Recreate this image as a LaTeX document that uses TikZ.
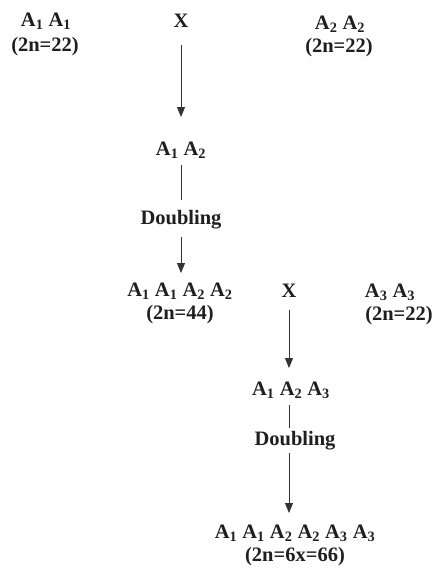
\documentclass[tikz,border=0pt]{standalone}
\usepackage{fontspec}
\setmainfont{Liberation Serif}
\usetikzlibrary{arrows.meta}
\newcommand\Asub[1]{A\textsubscript{#1}}
\tikzset{
  lbl/.style={anchor=base, inner sep=0pt, font=\fontsize{20.5}{22}\selectfont\bfseries, text=black!88},
  conn/.style={line width=0.8pt, draw=black!80},
  arr/.style={conn, -{Triangle[width=8pt,length=10pt]}}
}
\begin{document}
\begin{tikzpicture}[x=1pt,y=-1pt]
\useasboundingbox (0,0) rectangle (436,571);
\node[lbl] (p1) at (46,26) {\Asub{1} \Asub{1}};
\node[lbl] (p1n) at (45,51) {(2n=22)};
\node[lbl] (x1) at (181,27) {X};
\node[lbl] (p2) at (340,29) {\Asub{2} \Asub{2}};
\node[lbl] (p2n) at (339,52) {(2n=22)};
\node[lbl] (h12) at (181,155) {\Asub{1} \Asub{2}};
\node[lbl] (d1) at (181,224) {Doubling};
\node[lbl] (t4) at (180,296) {\Asub{1} \Asub{1} \Asub{2} \Asub{2}};
\node[lbl] (t4n) at (180,319) {(2n=44)};
\node[lbl] (x2) at (289,297) {X};
\node[lbl] (p3) at (390,297) {\Asub{3} \Asub{3}};
\node[lbl] (p3n) at (399,320) {(2n=22)};
\node[lbl] (h123) at (291,395) {\Asub{1} \Asub{2} \Asub{3}};
\node[lbl] (d2) at (295,445) {Doubling};
\node[lbl] (hx) at (295,538) {\Asub{1} \Asub{1} \Asub{2} \Asub{2} \Asub{3} \Asub{3}};
\node[lbl] (hxn) at (295,561) {(2n=6x=66)};
\draw[arr, shorten <=18pt, shorten >=38pt] (x1.base) -- (x1.base |- h12.base);
\draw[conn, shorten <=10pt, shorten >=24pt] (x1.base |- h12.base) -- (x1.base |- d1.base);
\draw[arr, shorten <=13pt, shorten >=23pt] (x1.base |- d1.base) -- (x1.base |- t4.base);
\draw[arr, shorten <=13pt, shorten >=27pt] (x2.base) -- (x2.base |- h123.base);
\draw[conn, shorten <=10pt, shorten >=17pt] (x2.base |- h123.base) -- (x2.base |- d2.base);
\draw[arr, shorten <=8pt, shorten >=25pt] (x2.base |- d2.base) -- (x2.base |- hx.base);
\end{tikzpicture}
\end{document}
